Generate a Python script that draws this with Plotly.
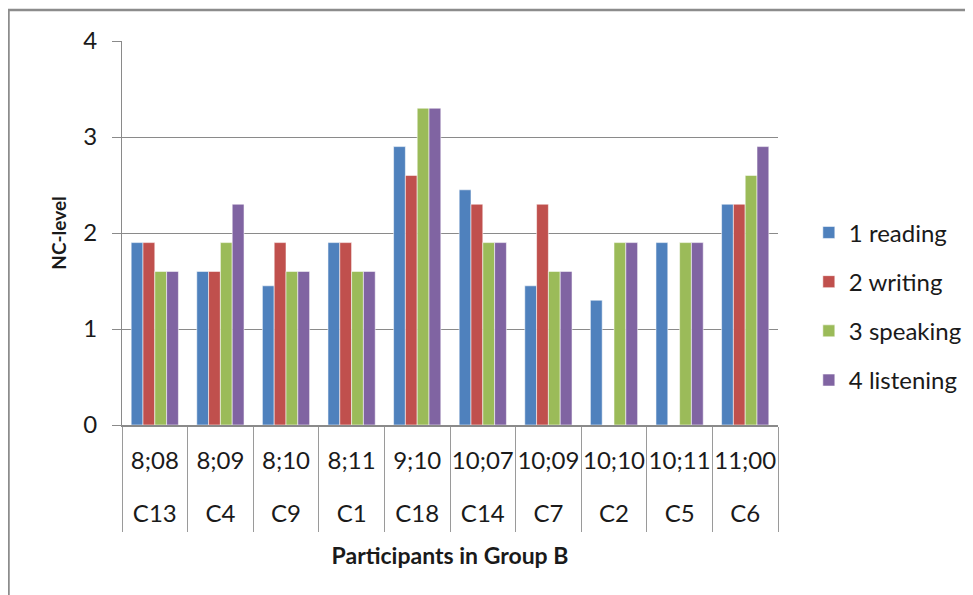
import plotly.graph_objects as go

participants = ["C13", "C4", "C9", "C1", "C18", "C14", "C7", "C2", "C5", "C6"]
ages = ["8;08", "8;09", "8;10", "8;11", "9;10", "10;07", "10;09", "10;10", "10;11", "11;00"]
series_names = ["1 reading", "2 writing", "3 speaking", "4 listening"]
reading = [1.9, 1.6, 1.45, 1.9, 2.9, 2.45, 1.45, 1.3, 1.9, 2.3]
writing = [1.9, 1.6, 1.9, 1.9, 2.6, 2.3, 2.3, 0, 0, 2.3]
speaking = [1.6, 1.9, 1.6, 1.6, 3.3, 1.9, 1.6, 1.9, 1.9, 2.6]
listening = [1.6, 2.3, 1.6, 1.6, 3.3, 1.9, 1.6, 1.9, 1.9, 2.9]
colors = ["#4F81BD", "#C0504D", "#9BBB59", "#8064A2"]
y_ticks = [0, 1, 2, 3, 4]

FONT = "Lato"
GRID = "#8a8a8a"
TXT = "#1a1a1a"

fig = go.Figure()
for name, vals, col in zip(series_names, [reading, writing, speaking, listening], colors):
    fig.add_trace(go.Bar(
        x=participants, y=vals, name=name, legendgroup=name,
        marker=dict(color=col, line=dict(color="rgba(255,255,255,0.55)", width=1)),
    ))

# invisible carrier trace for the age label row
fig.add_trace(go.Scatter(
    x=participants, y=[0] * len(participants), xaxis="x2", yaxis="y",
    mode="markers", marker=dict(opacity=0), showlegend=False, hoverinfo="skip",
))

fig.update_layout(
    width=965, height=587,
    margin=dict(l=114, r=195, t=33, b=170, autoexpand=False),
    paper_bgcolor="white", plot_bgcolor="white",
    font=dict(family=FONT, color=TXT),
    barmode="group", bargap=0.28, bargroupgap=0,
    showlegend=True,
    legend=dict(
        x=1.047, xanchor="left", y=0.309, yanchor="middle",
        font=dict(family=FONT, size=24, color=TXT),
        tracegroupgap=15, bgcolor="rgba(0,0,0,0)",
    ),
    xaxis=dict(
        type="category", categoryorder="array", categoryarray=participants,
        range=[-0.5, len(participants) - 0.5],
        tickmode="array", tickvals=participants, ticktext=participants,
        ticks="outside", tickson="boundaries", ticklen=105, tickcolor="#9a9a9a", tickwidth=1,
        ticklabelstandoff=66,
        showline=True, linecolor=GRID, linewidth=1.5, showgrid=False,
        tickfont=dict(family=FONT, size=24, color=TXT),
        title=dict(text="<b>Participants in Group B</b>", font=dict(family=FONT, size=23, color=TXT), standoff=22),
    ),
    xaxis2=dict(
        type="category", categoryorder="array", categoryarray=participants,
        overlaying="x", anchor="y", side="bottom",
        range=[-0.5, len(participants) - 0.5],
        tickmode="array", tickvals=participants, ticktext=ages,
        ticks="outside", ticklen=14, tickcolor="rgba(0,0,0,0)",
        showline=False, showgrid=False,
        tickfont=dict(family=FONT, size=24, color=TXT),
    ),
    yaxis=dict(
        range=[0, 4], tickmode="array", tickvals=y_ticks,
        showgrid=True, gridcolor=GRID, gridwidth=1.3,
        showline=True, linecolor=GRID, linewidth=1.3,
        ticks="outside", ticklen=9, tickcolor=GRID,
        ticklabelstandoff=10, zeroline=False,
        tickfont=dict(family=FONT, size=24, color=TXT),
        title=dict(text="<b>NC-level</b>", font=dict(family=FONT, size=19, color=TXT), standoff=11),
    ),
    shapes=[dict(
        type="rect", xref="paper", yref="paper",
        x0=(0.5 - 114) / 656, x1=(990 - 114) / 656,
        y0=(417 - 620) / 384, y1=(417 - 2) / 384,
        line=dict(color="#8c8c8c", width=2.5), fillcolor="rgba(0,0,0,0)", layer="below",
    )],
)

fig.write_html("out.html")
